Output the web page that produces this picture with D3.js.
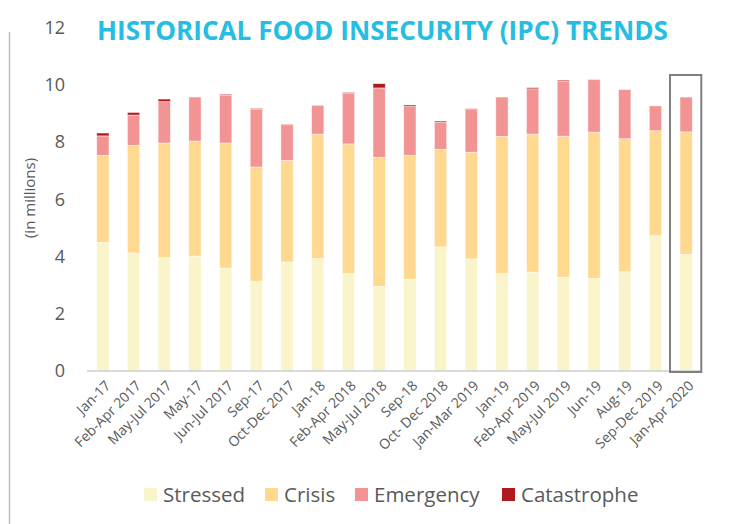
<!DOCTYPE html>
<html>
<head>
<meta charset="utf-8">
<script src="https://cdn.jsdelivr.net/npm/d3@7"></script>
<style>
  body { margin: 0; background: #fff; }
  text { font-family: 'Open Sans', sans-serif; fill: #595959; }
</style>
</head>
<body>
<div id="chart"></div>
<script>
const periods = ['Jan-17', 'Feb-Apr 2017', 'May-Jul 2017', 'May-17', 'Jun-Jul 2017', 'Sep-17', 'Oct-Dec 2017',
  'Jan-18', 'Feb-Apr 2018', 'May-Jul 2018', 'Sep-18', 'Oct- Dec 2018', 'Jan-Mar 2019', 'Jan-19',
  'Feb-Apr 2019', 'May-Jul 2019', 'Jun-19', 'Aug-19', 'Sep-Dec 2019', 'Jan-Apr 2020'];

const stressed    = [4.49, 4.12, 3.96, 4.01, 3.59, 3.13, 3.80, 3.92, 3.40, 2.95, 3.20, 4.33, 3.91, 3.40, 3.45, 3.27, 3.23, 3.46, 4.72, 4.07];
const crisis      = [3.05, 3.77, 4.01, 4.03, 4.38, 4.00, 3.56, 4.36, 4.54, 4.52, 4.34, 3.42, 3.74, 4.80, 4.83, 4.94, 5.12, 4.66, 3.68, 4.29];
const emergency   = [0.68, 1.06, 1.45, 1.54, 1.68, 2.02, 1.25, 1.01, 1.77, 2.43, 1.71, 0.95, 1.49, 1.38, 1.59, 1.92, 1.84, 1.72, 0.87, 1.22];
const catastrophe = [0.10, 0.09, 0.09, 0.00, 0.03, 0.03, 0.02, 0.00, 0.03, 0.15, 0.05, 0.04, 0.03, 0.00, 0.04, 0.04, 0.01, 0.00, 0.00, 0.00];

const phases = ['Stressed', 'Crisis', 'Emergency', 'Catastrophe'];
const colors = ['#f9f4c9', '#ffd98f', '#f29494', '#ae1a1d'];
const yTicks = [0, 2, 4, 6, 8, 10, 12];

const rows = periods.map((p, i) => ({
  period: p,
  Stressed: stressed[i],
  Crisis: crisis[i],
  Emergency: emergency[i],
  Catastrophe: catastrophe[i]
}));

const W = 739, H = 524;
const svg = d3.select('#chart').append('svg')
  .attr('width', W)
  .attr('height', H);

const x = d3.scaleBand()
  .domain(periods)
  .range([87.5, 701.5])
  .paddingInner(0.6)
  .paddingOuter(0.3);

const y = d3.scaleLinear()
  .domain([0, 12])
  .range([370.5, 28]);

// left frame line
svg.append('line')
  .attr('x1', 9.5).attr('x2', 9.5)
  .attr('y1', 32).attr('y2', H)
  .attr('stroke', '#bfbfbf')
  .attr('stroke-width', 1.5);

// y labels
svg.append('g')
  .selectAll('text')
  .data(yTicks)
  .join('text')
  .attr('x', 65)
  .attr('y', d => y(d))
  .attr('dy', '0.35em')
  .attr('text-anchor', 'end')
  .attr('font-size', 18)
  .text(d => d);

svg.append('text')
  .attr('transform', 'translate(35,198) rotate(-90)')
  .attr('text-anchor', 'middle')
  .attr('font-size', 15)
  .text('(in millions)');

const stack = d3.stack().keys(phases);
const series = stack(rows);

svg.append('g')
  .selectAll('g')
  .data(series)
  .join('g')
  .attr('fill', (d, i) => colors[i])
  .selectAll('rect')
  .data(d => d.filter(s => s[1] - s[0] > 0))
  .join('rect')
  .attr('x', d => x(d.data.period))
  .attr('y', d => y(d[1]))
  .attr('width', x.bandwidth())
  .attr('height', d => y(d[0]) - y(d[1]))
  .attr('stroke', 'rgba(255,255,255,0.6)')
  .attr('stroke-width', 0.75);

// baseline
svg.append('line')
  .attr('x1', 87).attr('x2', 701)
  .attr('y1', y(0) + 0.5).attr('y2', y(0) + 0.5)
  .attr('stroke', '#d9d9d9')
  .attr('stroke-width', 2);

// highlight box around latest period
const last = periods[periods.length - 1];
svg.append('rect')
  .attr('x', x(last) - 10)
  .attr('y', 75)
  .attr('width', x.bandwidth() + 19)
  .attr('height', 297)
  .attr('fill', 'none')
  .attr('stroke', '#7f7f7f')
  .attr('stroke-width', 2);

// x labels
svg.append('g')
  .selectAll('text')
  .data(periods)
  .join('text')
  .attr('transform', d => `translate(${x(d) + x.bandwidth() / 2 + 5},${383}) rotate(-45)`)
  .attr('text-anchor', 'end')
  .attr('dy', '0.35em')
  .attr('font-size', 14)
  .text(d => d);

// title
svg.append('text')
  .attr('x', 97)
  .attr('y', 40)
  .attr('font-size', 27)
  .attr('font-weight', 'bold')
  .attr('textLength', 571)
  .attr('lengthAdjust', 'spacingAndGlyphs')
  .style('fill', '#26bde2')
  .style('font-family', "'Liberation Sans Narrow', 'Open Sans', sans-serif")
  .text('HISTORICAL FOOD INSECURITY (IPC) TRENDS');

// legend
const legendX = [144, 265, 355, 502];
const legend = svg.append('g')
  .selectAll('g')
  .data(phases)
  .join('g')
  .attr('transform', (d, i) => `translate(${legendX[i]},488)`);

legend.append('rect')
  .attr('width', 13)
  .attr('height', 13)
  .attr('fill', (d, i) => colors[i]);

legend.append('text')
  .attr('x', 19)
  .attr('y', 6.5)
  .attr('dy', '0.36em')
  .attr('font-size', 20.5)
  .text(d => d);
</script>
</body>
</html>
